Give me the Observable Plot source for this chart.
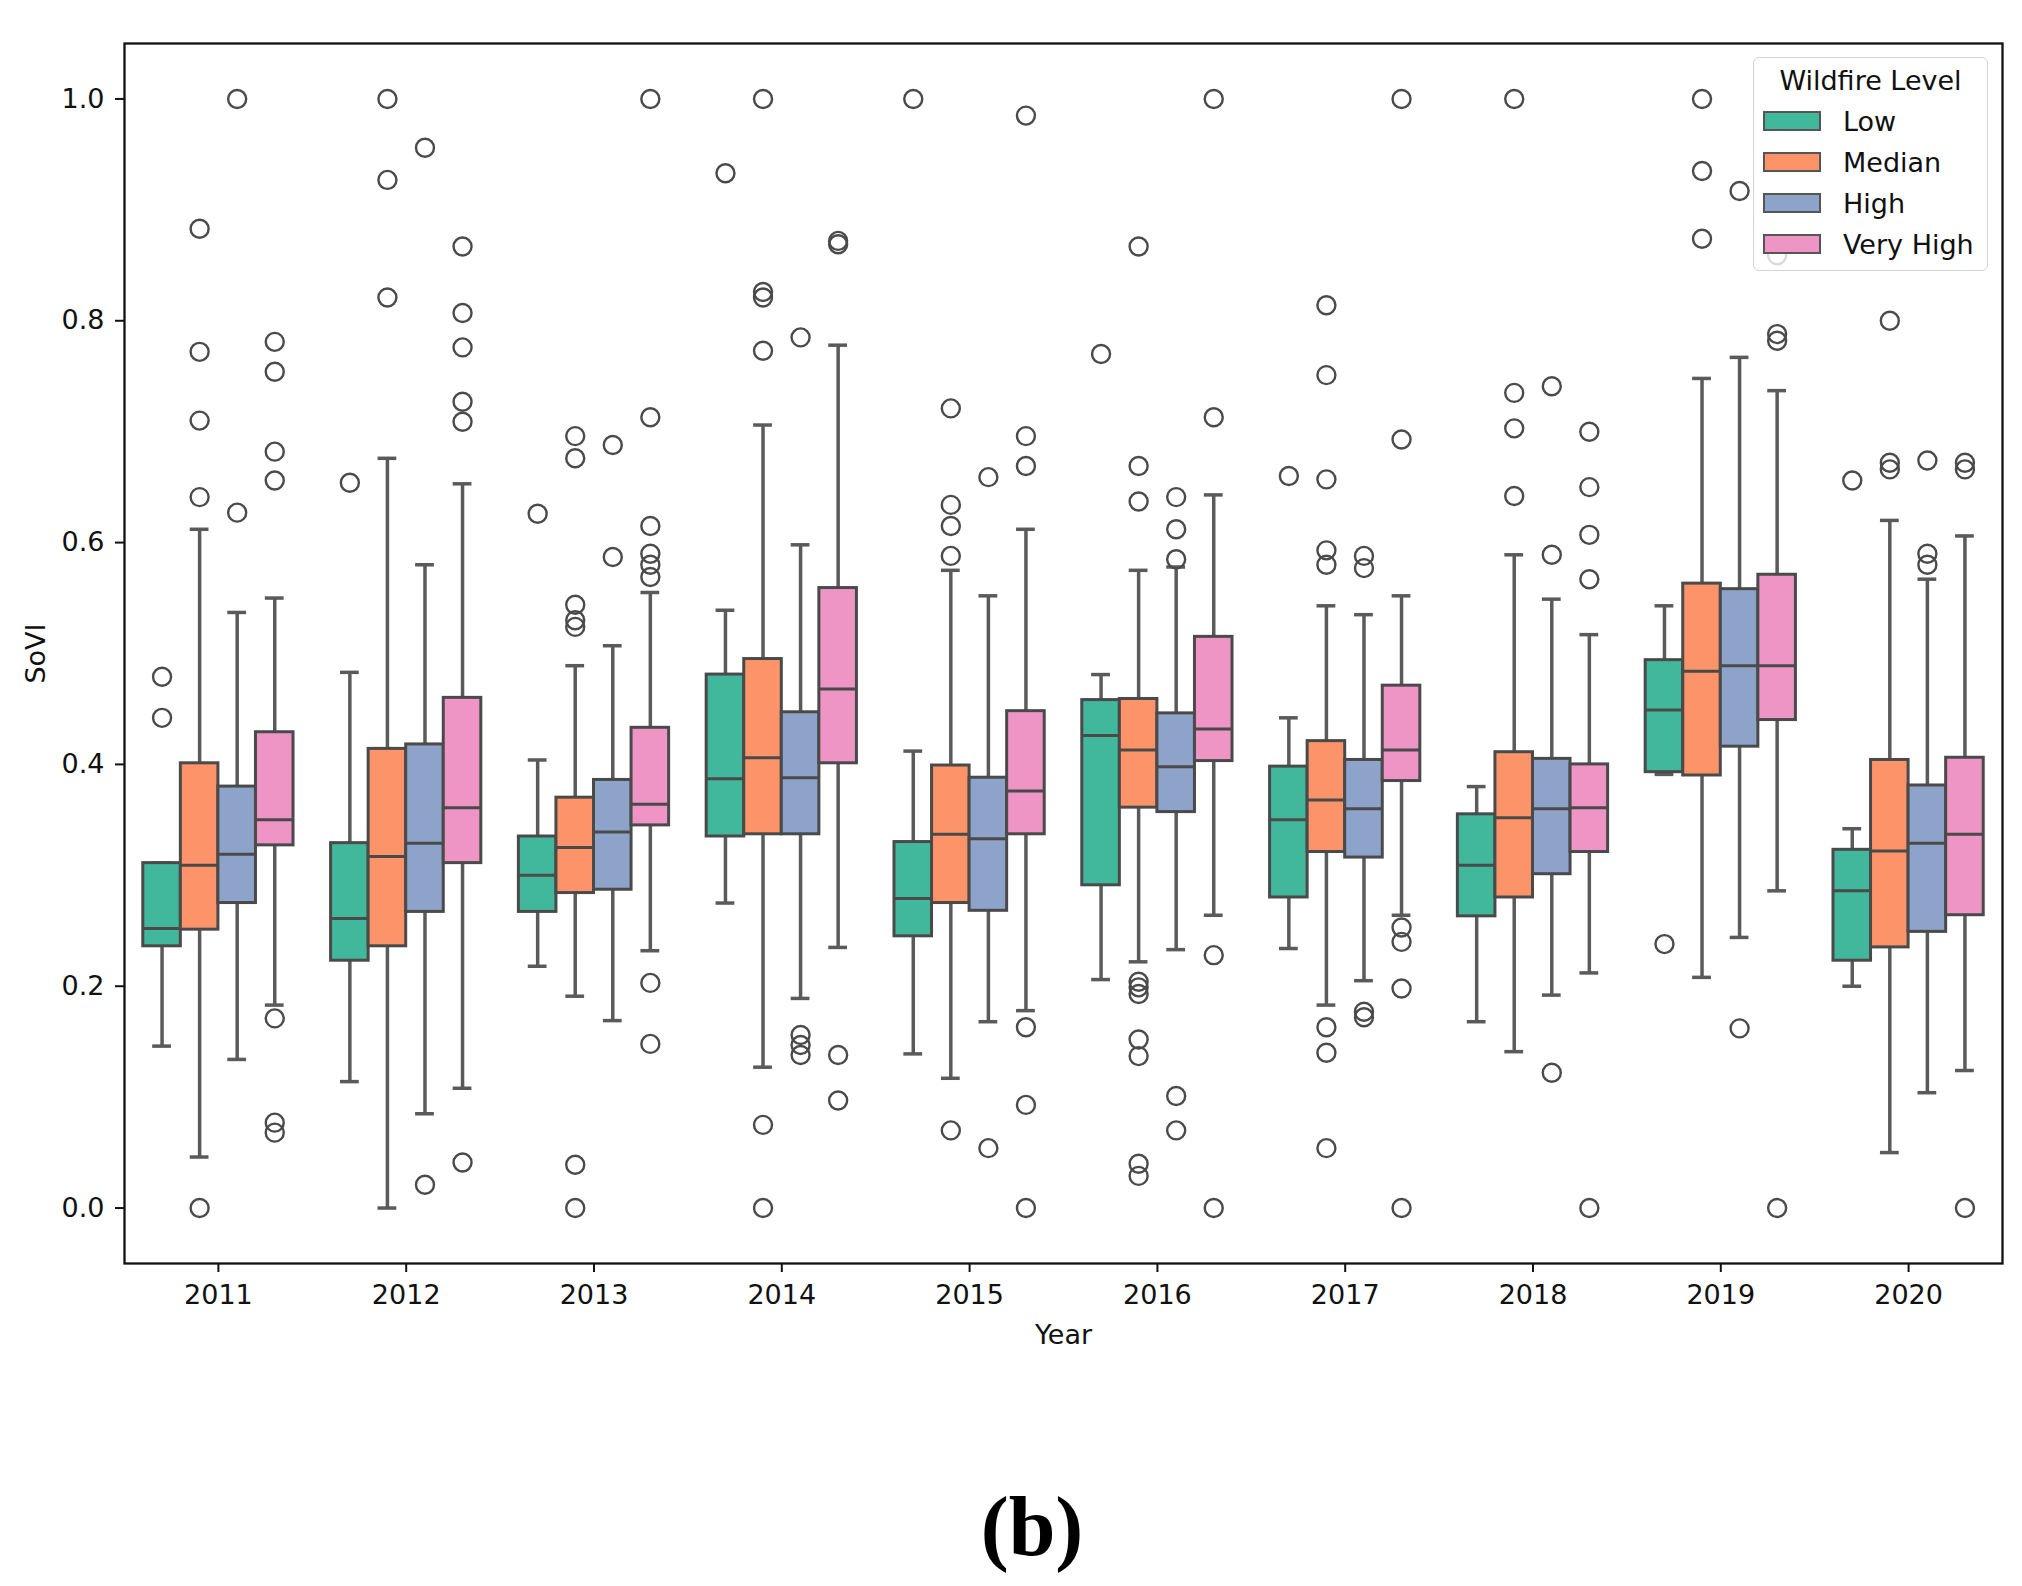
<!DOCTYPE html>
<html>
<head>
<meta charset="utf-8">
<script src="https://cdn.jsdelivr.net/npm/d3@7"></script>
<script src="https://cdn.jsdelivr.net/npm/@observablehq/plot@0.6"></script>
<style>
  body { margin: 0; background: #fff; }
  #wrap { position: relative; width: 2022px; height: 1586px; font-family: "DejaVu Sans", sans-serif; }
  #chart svg { display: block; }
  #legend { position: absolute; left: 1753px; top: 57px; width: 235px; height: 214px; box-sizing: border-box;
    border: 1.5px solid #d3d3d3; border-radius: 6px; background: rgba(255,255,255,0.8);
    font: 27px "DejaVu Sans", sans-serif; color: #111; }
  #legend .ttl { position: absolute; left: 0; right: 0; top: 9px; text-align: center; line-height: 27px; }
  #legend .sw { position: absolute; left: 9px; width: 58px; height: 20px; box-sizing: border-box; border: 2.5px solid #555; }
  #legend .lb { position: absolute; left: 89px; line-height: 27px; white-space: nowrap; }
  #caption { position: absolute; left: 932px; width: 200px; top: 1485px; text-align: center;
    font: bold 84px "Liberation Serif", "Times New Roman", serif; line-height: 84px; color: #000; }
</style>
</head>
<body>
<div id="wrap">
  <div id="chart"></div>
  <div id="legend"></div>
  <div id="caption">(b)</div>
</div>
<script>
// ---------------- data ----------------
const years = [2011, 2012, 2013, 2014, 2015, 2016, 2017, 2018, 2019, 2020];
const levels = ["Low", "Median", "High", "Very High"];
const colors = ["#41b89c", "#fd9469", "#8ea3c9", "#ee95c6"];
const yTicks = [0.0, 0.2, 0.4, 0.6, 0.8, 1.0];

// per year: [Low, Median, High, Very High]
const q1 = [
  [0.236, 0.251, 0.275, 0.327],
  [0.223, 0.236, 0.267, 0.311],
  [0.267, 0.284, 0.287, 0.345],
  [0.335, 0.337, 0.337, 0.401],
  [0.245, 0.275, 0.268, 0.337],
  [0.291, 0.361, 0.357, 0.403],
  [0.280, 0.321, 0.316, 0.385],
  [0.263, 0.280, 0.301, 0.321],
  [0.393, 0.390, 0.416, 0.440],
  [0.223, 0.235, 0.249, 0.264]
];
const medians = [
  [0.252, 0.309, 0.319, 0.350],
  [0.261, 0.317, 0.329, 0.361],
  [0.300, 0.325, 0.339, 0.364],
  [0.387, 0.406, 0.388, 0.468],
  [0.279, 0.337, 0.333, 0.376],
  [0.426, 0.413, 0.398, 0.432],
  [0.350, 0.368, 0.360, 0.413],
  [0.309, 0.352, 0.360, 0.361],
  [0.449, 0.484, 0.489, 0.489],
  [0.286, 0.322, 0.329, 0.337]
];
const q3 = [
  [0.311, 0.401, 0.380, 0.429],
  [0.329, 0.414, 0.418, 0.460],
  [0.335, 0.370, 0.386, 0.433],
  [0.481, 0.495, 0.447, 0.559],
  [0.330, 0.399, 0.388, 0.448],
  [0.458, 0.459, 0.446, 0.515],
  [0.398, 0.421, 0.404, 0.471],
  [0.355, 0.411, 0.405, 0.400],
  [0.494, 0.563, 0.558, 0.571],
  [0.323, 0.404, 0.381, 0.406]
];
const whiskerLow = [
  [0.146, 0.046, 0.134, 0.183],
  [0.114, 0.000, 0.085, 0.108],
  [0.218, 0.191, 0.169, 0.232],
  [0.275, 0.127, 0.189, 0.235],
  [0.139, 0.117, 0.168, 0.178],
  [0.206, 0.222, 0.233, 0.264],
  [0.234, 0.183, 0.205, 0.264],
  [0.168, 0.141, 0.192, 0.212],
  [0.391, 0.208, 0.244, 0.286],
  [0.200, 0.050, 0.104, 0.124]
];
const whiskerHigh = [
  [0.311, 0.612, 0.537, 0.550],
  [0.483, 0.676, 0.580, 0.653],
  [0.404, 0.489, 0.507, 0.555],
  [0.539, 0.706, 0.598, 0.778],
  [0.412, 0.575, 0.552, 0.612],
  [0.481, 0.575, 0.578, 0.643],
  [0.442, 0.543, 0.535, 0.552],
  [0.380, 0.589, 0.549, 0.517],
  [0.543, 0.748, 0.767, 0.737],
  [0.342, 0.620, 0.567, 0.606]
];

// outliers: [year, value]
const outLow = [
  [2011, 0.479], [2011, 0.442], [2012, 0.654], [2013, 0.626], [2014, 0.933],
  [2015, 1.0], [2016, 0.770], [2017, 0.660], [2019, 0.238], [2020, 0.656]
];
const outMedian = [
  [2011, 0.0], [2011, 0.641], [2011, 0.710], [2011, 0.772], [2011, 0.883],
  [2012, 1.0], [2012, 0.927], [2012, 0.821],
  [2013, 0.0], [2013, 0.039], [2013, 0.544], [2013, 0.530], [2013, 0.524], [2013, 0.696], [2013, 0.676],
  [2014, 0.0], [2014, 0.075], [2014, 0.773], [2014, 0.821], [2014, 0.826], [2014, 1.0],
  [2015, 0.070], [2015, 0.588], [2015, 0.615], [2015, 0.634], [2015, 0.721],
  [2016, 0.204], [2016, 0.199], [2016, 0.193], [2016, 0.152], [2016, 0.137], [2016, 0.040], [2016, 0.029],
  [2016, 0.637], [2016, 0.669], [2016, 0.867],
  [2017, 0.163], [2017, 0.140], [2017, 0.054], [2017, 0.593], [2017, 0.580], [2017, 0.657], [2017, 0.751], [2017, 0.814],
  [2018, 0.642], [2018, 0.703], [2018, 0.735], [2018, 1.0],
  [2019, 1.0], [2019, 0.935], [2019, 0.874],
  [2020, 0.672], [2020, 0.666], [2020, 0.800]
];
const outHigh = [
  [2011, 1.0], [2011, 0.627], [2012, 0.021], [2012, 0.956], [2013, 0.688], [2013, 0.587],
  [2014, 0.156], [2014, 0.147], [2014, 0.138], [2014, 0.785], [2015, 0.054], [2015, 0.659],
  [2016, 0.585], [2016, 0.612], [2016, 0.641], [2016, 0.101], [2016, 0.070],
  [2017, 0.177], [2017, 0.172], [2017, 0.588], [2017, 0.577],
  [2018, 0.122], [2018, 0.589], [2018, 0.741], [2019, 0.162], [2019, 0.917],
  [2020, 0.590], [2020, 0.580], [2020, 0.674]
];
const outVeryHigh = [
  [2011, 0.171], [2011, 0.077], [2011, 0.068], [2011, 0.656], [2011, 0.682], [2011, 0.754], [2011, 0.781],
  [2012, 0.041], [2012, 0.867], [2012, 0.807], [2012, 0.776], [2012, 0.727], [2012, 0.709],
  [2013, 0.203], [2013, 0.148], [2013, 1.0], [2013, 0.713], [2013, 0.615], [2013, 0.590], [2013, 0.580], [2013, 0.569],
  [2014, 0.138], [2014, 0.097], [2014, 0.872], [2014, 0.869],
  [2015, 0.163], [2015, 0.093], [2015, 0.0], [2015, 0.669], [2015, 0.696], [2015, 0.985],
  [2016, 0.228], [2016, 0.0], [2016, 0.713], [2016, 1.0],
  [2017, 0.253], [2017, 0.240], [2017, 0.198], [2017, 0.0], [2017, 0.693], [2017, 1.0],
  [2018, 0.0], [2018, 0.567], [2018, 0.607], [2018, 0.650], [2018, 0.700],
  [2019, 0.788], [2019, 0.782], [2019, 0.0], [2019, 0.859],
  [2020, 0.0], [2020, 0.672], [2020, 0.666]
];

// ---------------- build tables ----------------
const boxW = 0.2;            // each hue box takes 0.2 of a year slot (seaborn width 0.8 / 4)
const offset = j => (j - (levels.length - 1) / 2) * boxW;
const rows = [];
years.forEach((yr, i) => levels.forEach((lv, j) => rows.push({
  i, level: lv, x: i + offset(j),
  q1: q1[i][j], med: medians[i][j], q3: q3[i][j], lo: whiskerLow[i][j], hi: whiskerHigh[i][j]
})));
const outSets = [outLow, outMedian, outHigh, outVeryHigh];
const outRows = [];
outSets.forEach((set, j) => set.forEach(([yr, v]) => outRows.push({x: years.indexOf(yr) + offset(j), v})));

const lineGray = "#5a5a5a";
const font = '"DejaVu Sans", sans-serif';

const chart = Plot.plot({
  width: 2022,
  height: 1360,
  marginLeft: 124,
  marginRight: 20,
  marginTop: 43,
  marginBottom: 97,
  style: {fontFamily: font, fontSize: "27px", color: "#111", background: "white", overflow: "visible"},
  x: {domain: [-0.5, years.length - 0.5]},
  y: {domain: [-0.05, 1.05]},
  color: {domain: levels, range: colors},
  marks: [
    Plot.ruleX(rows, {x: "x", y1: "lo", y2: "q1", stroke: lineGray, strokeWidth: 3.5}),
    Plot.ruleX(rows, {x: "x", y1: "q3", y2: "hi", stroke: lineGray, strokeWidth: 3.5}),
    Plot.ruleY(rows, {y: "lo", x1: d => d.x - boxW / 4, x2: d => d.x + boxW / 4, stroke: lineGray, strokeWidth: 3.5}),
    Plot.ruleY(rows, {y: "hi", x1: d => d.x - boxW / 4, x2: d => d.x + boxW / 4, stroke: lineGray, strokeWidth: 3.5}),
    Plot.rect(rows, {x1: d => d.x - boxW / 2, x2: d => d.x + boxW / 2, y1: "q1", y2: "q3", fill: "level", stroke: "#4a4a4a", strokeWidth: 3}),
    Plot.ruleY(rows, {y: "med", x1: d => d.x - boxW / 2, x2: d => d.x + boxW / 2, stroke: "#4a4a4a", strokeWidth: 3}),
    Plot.dot(outRows, {x: "x", y: "v", r: 9, stroke: "#4a4a4a", strokeWidth: 2.4, fill: "none"}),
    Plot.axisX(d3.range(years.length), {
      tickFormat: i => String(years[i]), tickSize: 9, tickPadding: 12, strokeWidth: 2,
      label: "Year", labelAnchor: "center", labelOffset: 80, labelArrow: "none"
    }),
    Plot.axisY(yTicks, {
      tickFormat: d3.format(".1f"), tickSize: 9, tickPadding: 11, strokeWidth: 2,
      label: "SoVI", labelAnchor: "center", labelOffset: 99, labelArrow: "none"
    }),
    Plot.frame({stroke: "#111", strokeWidth: 2.3})
  ]
});
document.getElementById("chart").appendChild(chart);

// ---------------- legend ----------------
const legend = document.getElementById("legend");
const ttl = document.createElement("div");
ttl.className = "ttl";
ttl.textContent = "Wildfire Level";
legend.appendChild(ttl);
levels.forEach((lv, j) => {
  const sw = document.createElement("div");
  sw.className = "sw";
  sw.style.top = (53 + 41 * j) + "px";
  sw.style.background = colors[j];
  legend.appendChild(sw);
  const lb = document.createElement("div");
  lb.className = "lb";
  lb.style.top = (50 + 41 * j) + "px";
  lb.textContent = lv;
  legend.appendChild(lb);
});
</script>
</body>
</html>
